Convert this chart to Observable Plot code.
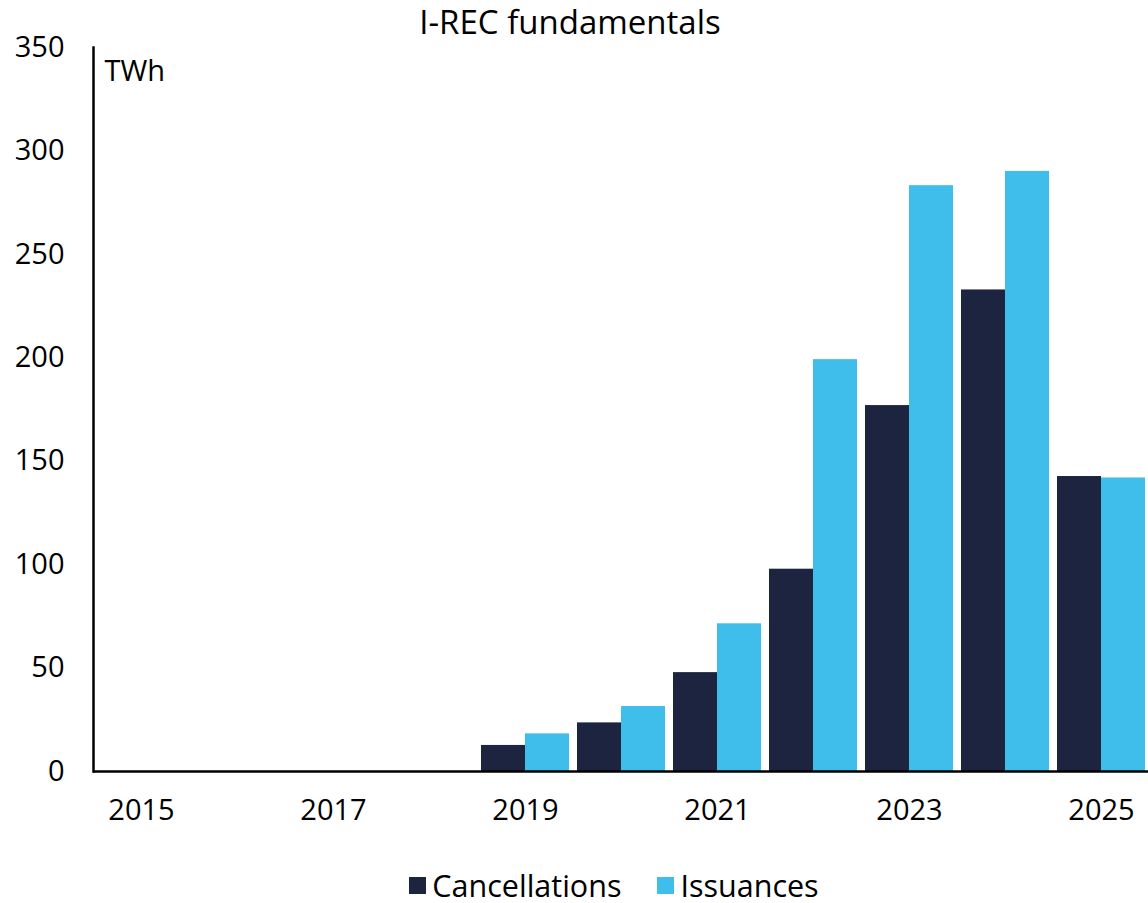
<!DOCTYPE html>
<html>
<head>
<meta charset="utf-8">
<script src="https://cdn.jsdelivr.net/npm/d3@7"></script>
<script src="https://cdn.jsdelivr.net/npm/@observablehq/plot@0.6"></script>
<style>
  html, body { margin: 0; padding: 0; background: #fff; }
  body { width: 1148px; height: 903px; position: relative; font-family: "Open Sans", sans-serif; color: #000; }
  #title { position: absolute; top: 0; left: 0; width: 1148px; text-align: center; font-size: 33px; line-height: 44px; z-index: 2; padding-right: 8px; box-sizing: border-box; }
  #chart { position: absolute; top: 0; left: 0; }
  #legend { position: absolute; top: 864px; left: 0; width: 1148px; box-sizing: border-box; padding-left: 80px; display: flex; justify-content: center; align-items: center; font-size: 30.5px; line-height: normal; }
  .item { display: flex; align-items: center; margin: 0 18px; }
  .sw { width: 17px; height: 17px; margin-right: 6px; }
</style>
</head>
<body>
<div id="title">I-REC fundamentals</div>
<div id="chart"></div>
<div id="legend"></div>
<script>
const years = ["2015","2016","2017","2018","2019","2020","2021","2022","2023","2024","2025"];
const cancellations = [0, 0, 0, 0, 12.6, 23.5, 47.8, 97.8, 176.9, 232.8, 142.6];
const issuances     = [0, 0, 0, 0, 18.2, 31.4, 71.4, 199.1, 283.2, 290.1, 141.9];
const seriesNames = ["Cancellations", "Issuances"];
const seriesColors = ["#1d2440", "#3fbdeb"];
const yTicks = [0, 50, 100, 150, 200, 250, 300, 350];
const xTickLabels = ["2015", "2017", "2019", "2021", "2023", "2025"];
const unitLabel = "TWh";

const data = [];
years.forEach((y, i) => {
  data.push({year: y, series: seriesNames[0], value: cancellations[i]});
  data.push({year: y, series: seriesNames[1], value: issuances[i]});
});

const plot = Plot.plot({
  width: 1148,
  height: 850,
  marginTop: 47,
  marginBottom: 79,
  marginLeft: 92,
  marginRight: -3,
  style: {fontFamily: "Open Sans, sans-serif", fontSize: "29px", color: "#000", background: "transparent", overflow: "visible"},
  fx: {domain: years, paddingInner: 0.08, paddingOuter: 0.04, axis: null, label: null},
  x: {domain: seriesNames, padding: 0, axis: null},
  y: {domain: [0, 350], axis: null, label: null},
  color: {domain: seriesNames, range: seriesColors},
  marks: [
    Plot.barY(data, {fx: "year", x: "series", y: "value", fill: "series"}),
    Plot.ruleY([0], {stroke: "#000", strokeWidth: 2.5, insetLeft: -4, insetRight: -4}),
    Plot.frame({anchor: "left", facetAnchor: "left", stroke: "#000", strokeWidth: 2.5, dx: -4}),
    Plot.axisY({ticks: yTicks, tickSize: 0, tickPadding: 33, fontSize: 29, facetAnchor: "left", label: null}),
    Plot.axisFx({anchor: "bottom", ticks: xTickLabels, tickSize: 0, tickPadding: 28, fontSize: 29, label: null}),
    Plot.text([{year: years[0]}], {fx: "year", text: () => unitLabel, frameAnchor: "top-left", textAnchor: "start", lineAnchor: "top", dx: 7, dy: 13, fontSize: 29, fill: "#000"})
  ]
});
document.getElementById("chart").appendChild(plot);

const legend = document.getElementById("legend");
seriesNames.forEach((name, i) => {
  const item = document.createElement("div");
  item.className = "item";
  const sw = document.createElement("div");
  sw.className = "sw";
  sw.style.background = seriesColors[i];
  const label = document.createElement("span");
  label.textContent = name;
  item.appendChild(sw);
  item.appendChild(label);
  legend.appendChild(item);
});
</script>
</body>
</html>
